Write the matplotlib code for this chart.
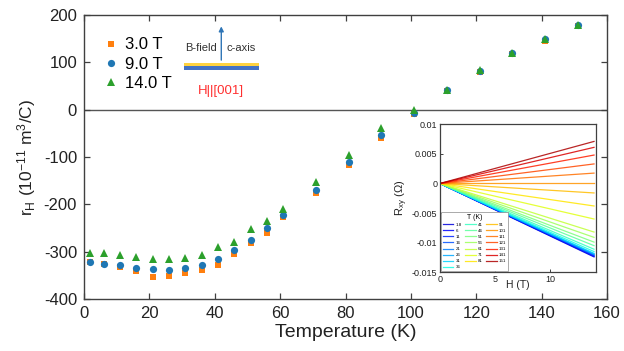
import numpy as np
import matplotlib
matplotlib.use("Agg")
import matplotlib.pyplot as plt
from matplotlib.lines import Line2D

plt.rcParams['font.family'] = ['Liberation Sans', 'DejaVu Sans']
plt.rcParams['mathtext.fontset'] = 'custom'
plt.rcParams['mathtext.rm'] = 'Liberation Sans'
plt.rcParams['mathtext.it'] = 'Liberation Sans:italic'
plt.rcParams['axes.unicode_minus'] = False

# Hall coefficient vs temperature, three fields
temps = [1.8, 6, 11, 16, 21, 26, 31, 36, 41, 46, 51, 56, 61, 71, 81, 91,
         101, 111, 121, 131, 141, 151]
rh_3T = [-322, -325, -333, -341, -353, -351, -346, -339, -327, -305, -282, -260,
         -227, -175, -116, -60, -8, 40, 80, 118, 145, 178]
rh_9T = [-322, -325, -328, -335, -337, -339, -334, -329, -315, -296, -276, -250,
         -223, -169, -110, -53, -6, 42, 82, 119, 150, 180]
rh_14T = [-302, -302, -306, -312, -315, -315, -313, -306, -291, -279, -251, -235,
          -209, -152, -95, -39, -1, 42, 83, 119, 150, 180]

# Inset: Rxy(H) at each temperature, end points of the field sweep
field = [0.0, 14.0]
rxy_end = [-0.0124, -0.0123, -0.0122, -0.0121, -0.0120, -0.0119, -0.0118, -0.0115,
           -0.0111, -0.0105, -0.0099, -0.0091, -0.0082, -0.0060, -0.0038, -0.0016,
           0.0000, 0.00175, 0.0033, 0.0048, 0.0061, 0.0071]
inset_labels = ['1.8', '6', '11', '16', '21', '26', '31', '36', '41', '46', '51',
                '56', '61', '71', '81', '91', '101', '111', '121', '131', '141', '151']

c_orange = '#ff7f0e'
c_blue = '#1f77b4'
c_green = '#2ca02c'
frame = '#404040'

fig = plt.figure(figsize=(6.24, 3.51), dpi=100)
ax = fig.add_axes([0.1346, 0.148, 0.8382, 0.809])

ax.axhline(0, color='#555555', lw=1.0, zorder=1)
ax.plot(temps, rh_3T, 's', color=c_orange, ms=4.2, mew=0, zorder=3)
ax.plot(temps, rh_9T, 'o', color=c_blue, ms=5.2, mew=0, zorder=4)
ax.plot(temps, rh_14T, '^', color=c_green, ms=5.4, mew=0, zorder=5)

ax.set_xlim(0, 160)
ax.set_ylim(-400, 200)
ax.set_xticks(range(0, 161, 20))
ax.set_yticks(range(-400, 201, 100))
ax.tick_params(direction='in', top=True, right=True, labelsize=12,
               length=4, width=0.9, color=frame, labelcolor='#222222', pad=5)
for s in ax.spines.values():
    s.set_color(frame)
    s.set_linewidth(1.0)
ax.set_xlabel('Temperature (K)', fontsize=14, color='#222222', labelpad=2)
ax.set_ylabel(r'r$_{\rm H}$ (10$^{-11}$ m$^3$/C)', fontsize=12.5, color='#222222',
              labelpad=4)

handles = [Line2D([], [], ls='', marker='s', color=c_orange, ms=4.2, mew=0),
           Line2D([], [], ls='', marker='o', color=c_blue, ms=5.2, mew=0),
           Line2D([], [], ls='', marker='^', color=c_green, ms=5.4, mew=0)]
ax.legend(handles, ['3.0 T', '9.0 T', '14.0 T'], loc='upper left',
          bbox_to_anchor=(0.03, 0.945), frameon=False, fontsize=12,
          handlelength=0.6, handletextpad=0.5, labelspacing=0.25,
          borderaxespad=0)

# sample sketch: layers, field arrow and orientation label
ax.fill_between([30.5, 53.5], 84, 92, color='#4472c4', lw=0, zorder=2)
ax.fill_between([30.5, 53.5], 92, 98, color='#ffd23f', lw=0, zorder=2)
ax.annotate('', xy=(42, 182), xytext=(42, 99),
            arrowprops=dict(arrowstyle='-|>', color='#2e75b6', lw=1.0,
                            mutation_scale=7))
ax.text(40.5, 131, 'B-field', ha='right', va='center', fontsize=8, color='#333333')
ax.text(43.5, 131, 'c-axis', ha='left', va='center', fontsize=8,
        color='#333333')
ax.text(42, 40, 'H||[001]', ha='center', va='center', fontsize=9.5,
        color='#ff3030')

# inset
ins = fig.add_axes([0.705, 0.2242, 0.2496, 0.4218])
colors = plt.cm.jet(np.linspace(0.08, 0.96, len(rxy_end)))
for r, lab, c in zip(rxy_end, inset_labels, colors):
    ins.plot(field, [0.0, r], color=c, lw=0.9, label=lab, alpha=0.85)
ins.set_xlim(0, 14.15)
ins.set_ylim(-0.015, 0.01)
ins.set_xticks([0, 5, 10])
ins.set_yticks([-0.015, -0.01, -0.005, 0, 0.005, 0.01])
ins.set_yticklabels(['-0.015', '-0.01', '-0.005', '0', '0.005', '0.01'])
ins.tick_params(direction='in', labelsize=6.5, length=2.5, width=0.7,
                color=frame, labelcolor='#222222', pad=2)
for s in ins.spines.values():
    s.set_color(frame)
    s.set_linewidth(0.9)
ins.set_xlabel('H (T)', fontsize=7.5, color='#222222', labelpad=-3)
ins.set_ylabel(r'R$_{\rm xy}$ ($\Omega$)', fontsize=8, color='#222222',
               labelpad=1)
leg = ins.legend(ncol=3, loc='lower left', fontsize=3.2, title='T (K)',
                 title_fontsize=5, handlelength=2.4, handletextpad=0.5,
                 columnspacing=0.7, labelspacing=0.45, borderaxespad=0.25,
                 framealpha=1, edgecolor='#888888', fancybox=False)
leg.get_frame().set_linewidth(0.5)

fig.savefig('out.png', dpi=100)
